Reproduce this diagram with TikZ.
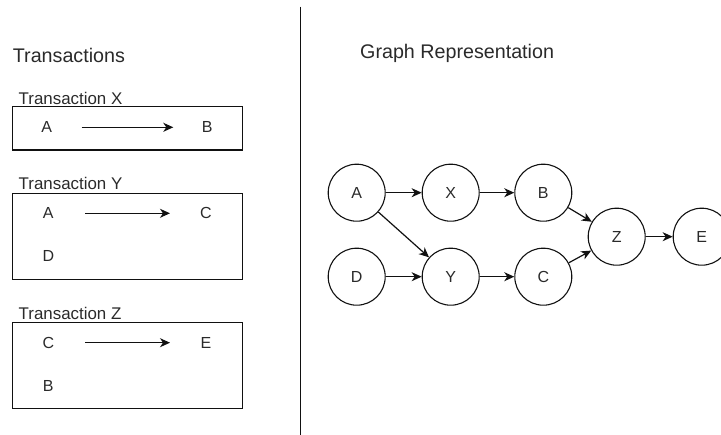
\documentclass[tikz,border=0pt]{standalone}
\usepackage{fontspec}
\setmainfont{Liberation Sans}
\usetikzlibrary{arrows.meta}
\definecolor{ink}{HTML}{111111}
\definecolor{txt}{HTML}{2A2A2A}
\begin{document}
\begin{tikzpicture}[x=1pt,y=-1pt,
  title/.style={font=\fontsize{19.7}{22}\selectfont, inner sep=0, anchor=west, text=txt},
  boxlabel/.style={font=\fontsize{16.9}{19}\selectfont, inner sep=0, anchor=west, text=txt},
  letter/.style={font=\fontsize{16}{18}\selectfont, inner sep=0, text=txt},
  txbox/.style={draw=ink, line width=1.1pt},
  vertex/.style={circle, draw=ink, line width=1.1pt, minimum size=57pt, inner sep=0,
    font=\fontsize{16}{18}\selectfont, text=txt},
  arr/.style={draw=ink, line width=1.2pt, -{Stealth[length=10pt,width=9pt,inset=3pt]}}
]
\useasboundingbox (0,0) rectangle (721,435);

% divider between the two panels
\draw[ink, line width=1.2pt] (300.7,6.7) -- (300.7,435);

% left panel: transactions
\node[title] (ttx) at (12.7,55) {Transactions};

\node[boxlabel] (lx) at (18.5,98.3) {Transaction X};
\draw[txbox] (12.7,106.7) rectangle (242.7,150);
\node[letter] (xa) at (46.7,127.3) {A};
\node[letter] (xb) at (207.3,127.3) {B};
\draw[arr, shorten <=35pt, shorten >=34pt] (xa.center) -- (xb.center);

\node[boxlabel] (ly) at (18.5,183.3) {Transaction Y};
\draw[txbox] (12.7,193.3) rectangle (242.7,279.3);
\node[letter] (ya) at (48.3,213.3) {A};
\node[letter] (yc) at (206,213.3) {C};
\node[letter] (yd) at (48.3,256) {D};
\draw[arr, shorten <=36.7pt, shorten >=36pt] (ya.center) -- (yc.center);

\node[boxlabel] (lz) at (18.5,313.3) {Transaction Z};
\draw[txbox] (12.7,322.7) rectangle (242.7,408.7);
\node[letter] (zc) at (48.3,342.7) {C};
\node[letter] (ze) at (206,342.7) {E};
\node[letter] (zb) at (48.3,386) {B};
\draw[arr, shorten <=36.7pt, shorten >=36pt] (zc.center) -- (ze.center);

% right panel: graph representation
\node[title] (tgr) at (360,53.3) {Graph Representation};

\node[vertex] (A) at (356.7,192.7) {A};
\node[vertex] (X) at (450.7,192.7) {X};
\node[vertex] (B) at (543.3,192.7) {B};
\node[vertex] (D) at (356.7,276.7) {D};
\node[vertex] (Y) at (450.7,276.7) {Y};
\node[vertex] (C) at (543.3,276.7) {C};
\node[vertex] (Z) at (616.7,236.7) {Z};
\node[vertex] (E) at (701.7,236.7) {E};

\draw[arr] (A) -- (X);
\draw[arr] (X) -- (B);
\draw[arr] (A) -- (Y);
\draw[arr] (D) -- (Y);
\draw[arr] (Y) -- (C);
\draw[arr] (B) -- (Z);
\draw[arr] (C) -- (Z);
\draw[arr] (Z) -- (E);
\end{tikzpicture}
\end{document}
